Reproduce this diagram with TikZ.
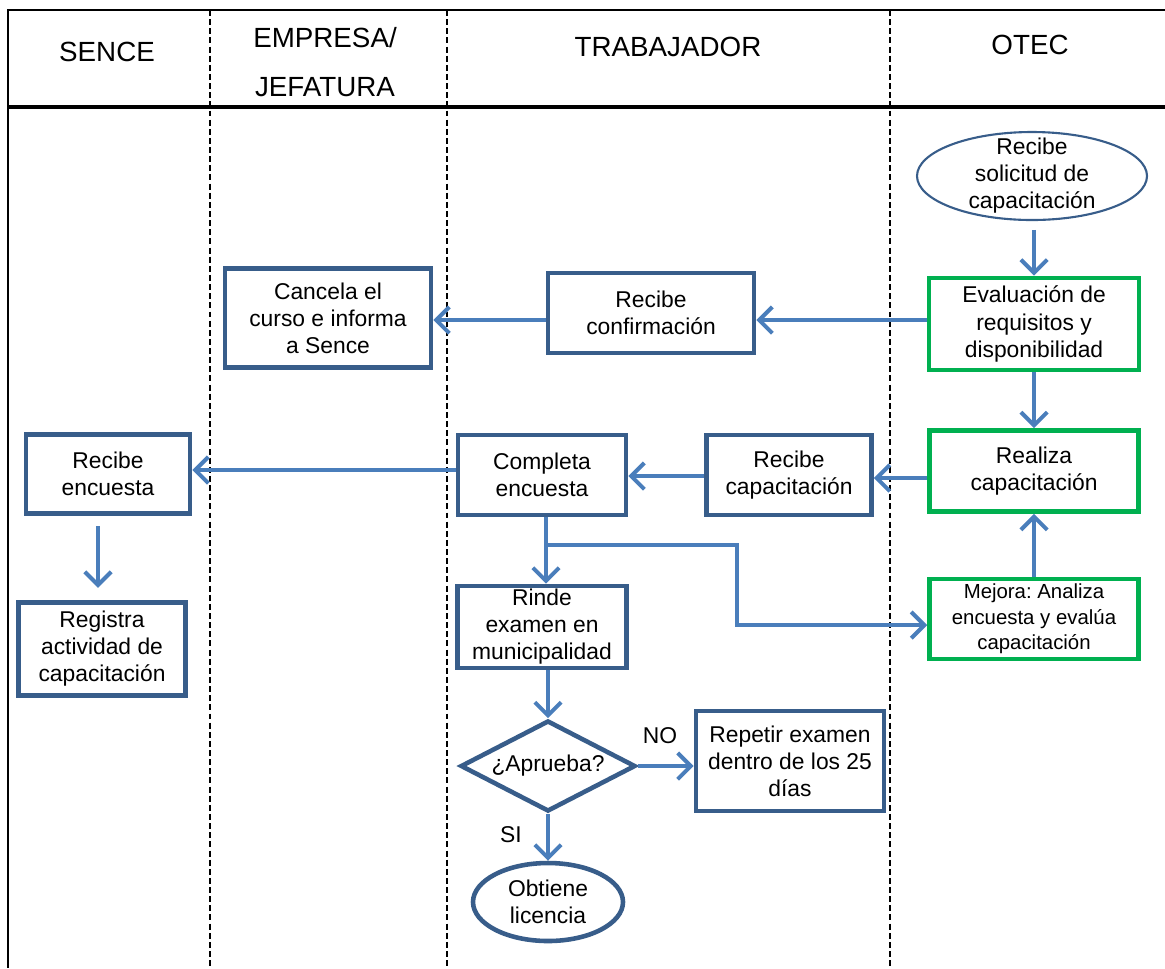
\documentclass[tikz,border=0pt]{standalone}
\usepackage{fontspec}
\setmainfont{Liberation Sans}
\frenchspacing
\usetikzlibrary{arrows.meta,shapes.geometric}
\definecolor{boxblue}{HTML}{385D8A}
\definecolor{arrblue}{HTML}{4A7EBB}
\definecolor{boxgreen}{HTML}{00B050}
\begin{document}
\begin{tikzpicture}[x=0.02cm,y=-0.02cm,
  every node/.style={font=\fontsize{13}{15.4}\selectfont, align=center, inner sep=0pt},
  sz/.style 2 args={minimum width=#1*0.02cm, minimum height=#2*0.02cm},
  bluebox/.style={draw=boxblue, line width=2.6pt, fill=white, rectangle},
  greenbox/.style={draw=boxgreen, line width=2.6pt, fill=white, rectangle},
  hdr/.style={font=\fontsize{15.8}{28}\selectfont},
  lane/.style={line width=1.2pt, dash pattern=on 3.4pt off 1.8pt},
  arr/.style={draw=arrblue, line width=2.3pt, -{Straight Barb[length=7.5pt,width=15pt]}},
  lbl/.style={font=\fontsize{13}{15.4}\selectfont}
]
\useasboundingbox (0,0) rectangle (1165,968);
% frame
\draw[line width=1.2pt] (1165,10) -- (8,10) -- (8,968);
\draw[line width=2.4pt] (8,107) -- (1165,107);
\draw[lane] (210,10) -- (210,968);
\draw[lane] (447,10) -- (447,968);
\draw[lane] (890,10) -- (890,968);
% headers
\node[hdr] (hsence) at (107,52) {SENCE};
\node[hdr] (hemp) at (325,62) {EMPRESA/\\JEFATURA};
\node[hdr] (htrab) at (668,47) {TRABAJADOR};
\node[hdr] (hotec) at (1030,45) {OTEC};
% nodes
\node[ellipse, draw=boxblue, line width=1.2pt, fill=white, sz={230}{88},
      label={[name=ell1t]center:{Recibe\\solicitud de\\capacitación}}] (ell1) at (1032,176) {};
\node[greenbox, sz={210}{92}] (eval) at (1034,324) {Evaluación de\\requisitos y\\disponibilidad};
\node[bluebox, sz={206}{80}] (rconf) at (651,313) {Recibe\\confirmación};
\node[bluebox, sz={206}{99}] (cancela) at (328,318) {Cancela el\\curso e informa\\a Sence};
\node[greenbox, sz={209}{81}] (realiza) at (1034,471) {Realiza\\capacitación};
\node[bluebox, sz={165}{80}] (rcap) at (789,475) {Recibe\\capacitación};
\node[bluebox, sz={168}{80}] (completa) at (542,475) {Completa\\encuesta};
\node[bluebox, sz={164}{79}] (rencuesta) at (108,474) {Recibe\\encuesta};
\node[bluebox, sz={167}{93}] (registra) at (102,649) {Registra\\actividad de\\capacitación};
\node[bluebox, sz={169}{82}] (rinde) at (542,627) {Rinde\\examen en\\municipalidad};
\node[greenbox, sz={209}{80}, font=\fontsize{11.6}{14.5}\selectfont] (mejora) at (1034,619) {Mejora: Analiza\\encuesta y evalúa\\capacitación};
\node[diamond, aspect=1.9, draw=boxblue, line width=2.6pt, fill=white, sz={175}{91}] (aprueba) at (548,766) {¿Aprueba?};
\node[bluebox, sz={188}{100}] (repetir) at (790,761) {Repetir examen\\dentro de los 25\\días};
\node[ellipse, draw=boxblue, line width=2.6pt, fill=white, sz={150}{78}] (obtiene) at (548,902) {Obtiene\\licencia};
% connectors
\draw[arr, shorten <=5pt] (ell1.south -| eval.north) -- (eval.north);
\draw[arr] (eval.west |- 0,320) -- (rconf.east |- 0,320);
\draw[arr] (rconf.west |- 0,320) -- (cancela.east |- 0,320);
\draw[arr] (eval.south) -- (realiza.north);
\draw[arr] (realiza.west |- 0,478) -- (rcap.east |- 0,478);
\draw[arr] (rcap.west |- 0,476) -- (completa.east |- 0,476);
\draw[arr] (completa.west |- 0,470) -- (rencuesta.east |- 0,470);
\draw[arr, shorten <=6pt, shorten >=7pt] (rencuesta.south -| 98,0) -- (registra.north -| 98,0);
\draw[arr] (completa.south -| 546,0) -- (rinde.north -| 546,0);
\coordinate (br0) at (546,545);
\coordinate (br1) at (737,625);
\draw[arr] (br0) -| (br1) -- (br1 -| mejora.west);
\draw[arr] (mejora.north) -- (realiza.south);
\draw[arr] (rinde.south -| aprueba.north) -- (aprueba.north);
\draw[arr] (aprueba.east) -- (aprueba.east -| repetir.west);
\draw[arr] (aprueba.south) -- (obtiene.north);
\node[lbl] (no) at (660,736) {NO};
\node[lbl] (si) at (511,835) {SI};
\end{tikzpicture}
\end{document}
